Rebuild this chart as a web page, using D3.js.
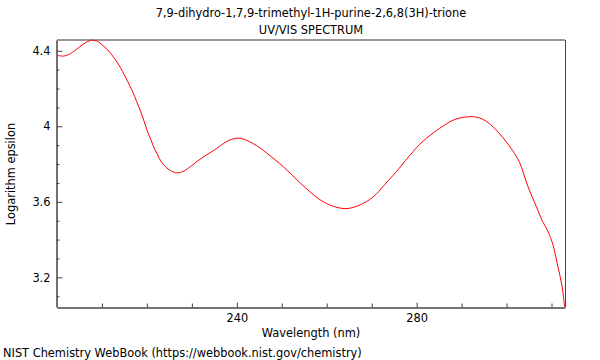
<!DOCTYPE html>
<html><head><meta charset="utf-8">
<script src="https://cdn.jsdelivr.net/npm/d3@7"></script>
<style>body{margin:0;background:#fff;} svg{display:block;font-family:"DejaVu Sans",sans-serif;}</style>
</head><body>
<svg id="c" width="600" height="360"></svg>
<script>
const wavelengths = [200.0,201.5,203,205,206.5,207.8,209,210.1,211.3,212.4,213.5,214.6,215.7,216.8,217.7,218.6,219.4,220.1,220.9,221.6,222.4,223.1,224.0,224.9,226.4,227.8,229.7,231.2,232.7,234.2,235.6,237.1,238.5,240.1,241.4,242.6,244.9,246.7,250.4,254.1,258.5,261.3,264.1,266.5,268.9,271,272.2,275.5,277.5,279.2,280.7,282.2,283.7,285.1,287.4,289.2,291.8,293.8,295.5,297.3,299.2,301.4,302.9,304.7,306.6,308.0,309.2,310.3,311.4,312.3,312.9];
const logEps = [4.376,4.372,4.385,4.42,4.445,4.456,4.45,4.43,4.404,4.372,4.335,4.29,4.238,4.185,4.132,4.079,4.025,3.974,3.928,3.885,3.848,3.815,3.789,3.771,3.754,3.758,3.787,3.815,3.84,3.862,3.884,3.91,3.928,3.937,3.933,3.921,3.89,3.857,3.785,3.70,3.611,3.578,3.564,3.575,3.602,3.64,3.673,3.76,3.818,3.866,3.905,3.937,3.965,3.989,4.024,4.042,4.051,4.046,4.026,3.99,3.94,3.87,3.808,3.685,3.576,3.497,3.444,3.374,3.259,3.16,3.045];
const xMajorTicks = [240, 280];
const xMinorTicks = [210,220,230,250,260,270,290,300,310];
const yMajorTicks = [3.2, 3.6, 4.0, 4.4];
const yMinorTicks = [3.1,3.3,3.4,3.5,3.7,3.8,3.9,4.1,4.2,4.3];
const titleLines = ["7,9-dihydro-1,7,9-trimethyl-1H-purine-2,6,8(3H)-trione", "UV/VIS SPECTRUM"];
const xLabel = "Wavelength (nm)";
const yLabel = "Logarithm epsilon";
const footer = "NIST Chemistry WebBook (https://webbook.nist.gov/chemistry)";

const L = 57, R = 565, T = 40, B = 307;
const FS = 11.4;
const svg = d3.select("#c");
const x = d3.scaleLinear().domain([200, 313]).range([L, R]);
const y = d3.scaleLinear().domain([3.043, 4.457]).range([B, T]);

const data = wavelengths.map((w, i) => ({w, v: logEps[i]}));

// frame
svg.append("line").attr("x1", L).attr("x2", R).attr("y1", T).attr("y2", T).attr("stroke", "#999").attr("stroke-width", 2);
svg.append("line").attr("x1", R+0.5).attr("x2", R+0.5).attr("y1", T).attr("y2", B).attr("stroke", "#444").attr("stroke-width", 1);

const fmt = d => (Math.round(d*10)/10).toString();

// x axis
const gx = svg.append("g").attr("transform", `translate(0,${B+0.5})`)
  .call(d3.axisBottom(x).tickValues(xMajorTicks).tickSizeInner(-5).tickSizeOuter(0).tickPadding(6).tickFormat(d3.format("d")));
gx.append("g").call(d3.axisBottom(x).tickValues(xMinorTicks).tickSizeInner(-4).tickSizeOuter(0).tickFormat(""));
// y axis
const gy = svg.append("g").attr("transform", `translate(${L-0.5},0)`)
  .call(d3.axisLeft(y).tickValues(yMajorTicks).tickSizeInner(-6).tickSizeOuter(0).tickPadding(6).tickFormat(fmt));
gy.append("g").call(d3.axisLeft(y).tickValues(yMinorTicks).tickSizeInner(-3).tickSizeOuter(0).tickFormat(""));
svg.selectAll(".domain").attr("stroke", "#444");
svg.selectAll(".tick line").attr("stroke", "#444");
svg.selectAll(".tick text").attr("font-size", FS).attr("fill", "#000").attr("font-family", "DejaVu Sans");

// curve
const line = d3.line().x(d => x(d.w)).y(d => y(d.v)).curve(d3.curveCatmullRom.alpha(0.5));
svg.append("path").datum(data).attr("d", line).attr("fill", "none").attr("stroke", "#ff0000").attr("stroke-width", 1);

// texts
svg.append("text").attr("x", 311).attr("y", 17).attr("text-anchor", "middle").attr("font-size", FS).text(titleLines[0]);
svg.append("text").attr("x", 311).attr("y", 34).attr("text-anchor", "middle").attr("font-size", FS).text(titleLines[1]);
svg.append("text").attr("x", 311).attr("y", 337).attr("text-anchor", "middle").attr("font-size", FS).text(xLabel);
svg.append("text").attr("transform", "translate(15,174) rotate(-90)").attr("text-anchor", "middle").attr("font-size", FS).text(yLabel);
svg.append("text").attr("x", 3).attr("y", 357).attr("font-size", FS).text(footer);
</script>
</body></html>
